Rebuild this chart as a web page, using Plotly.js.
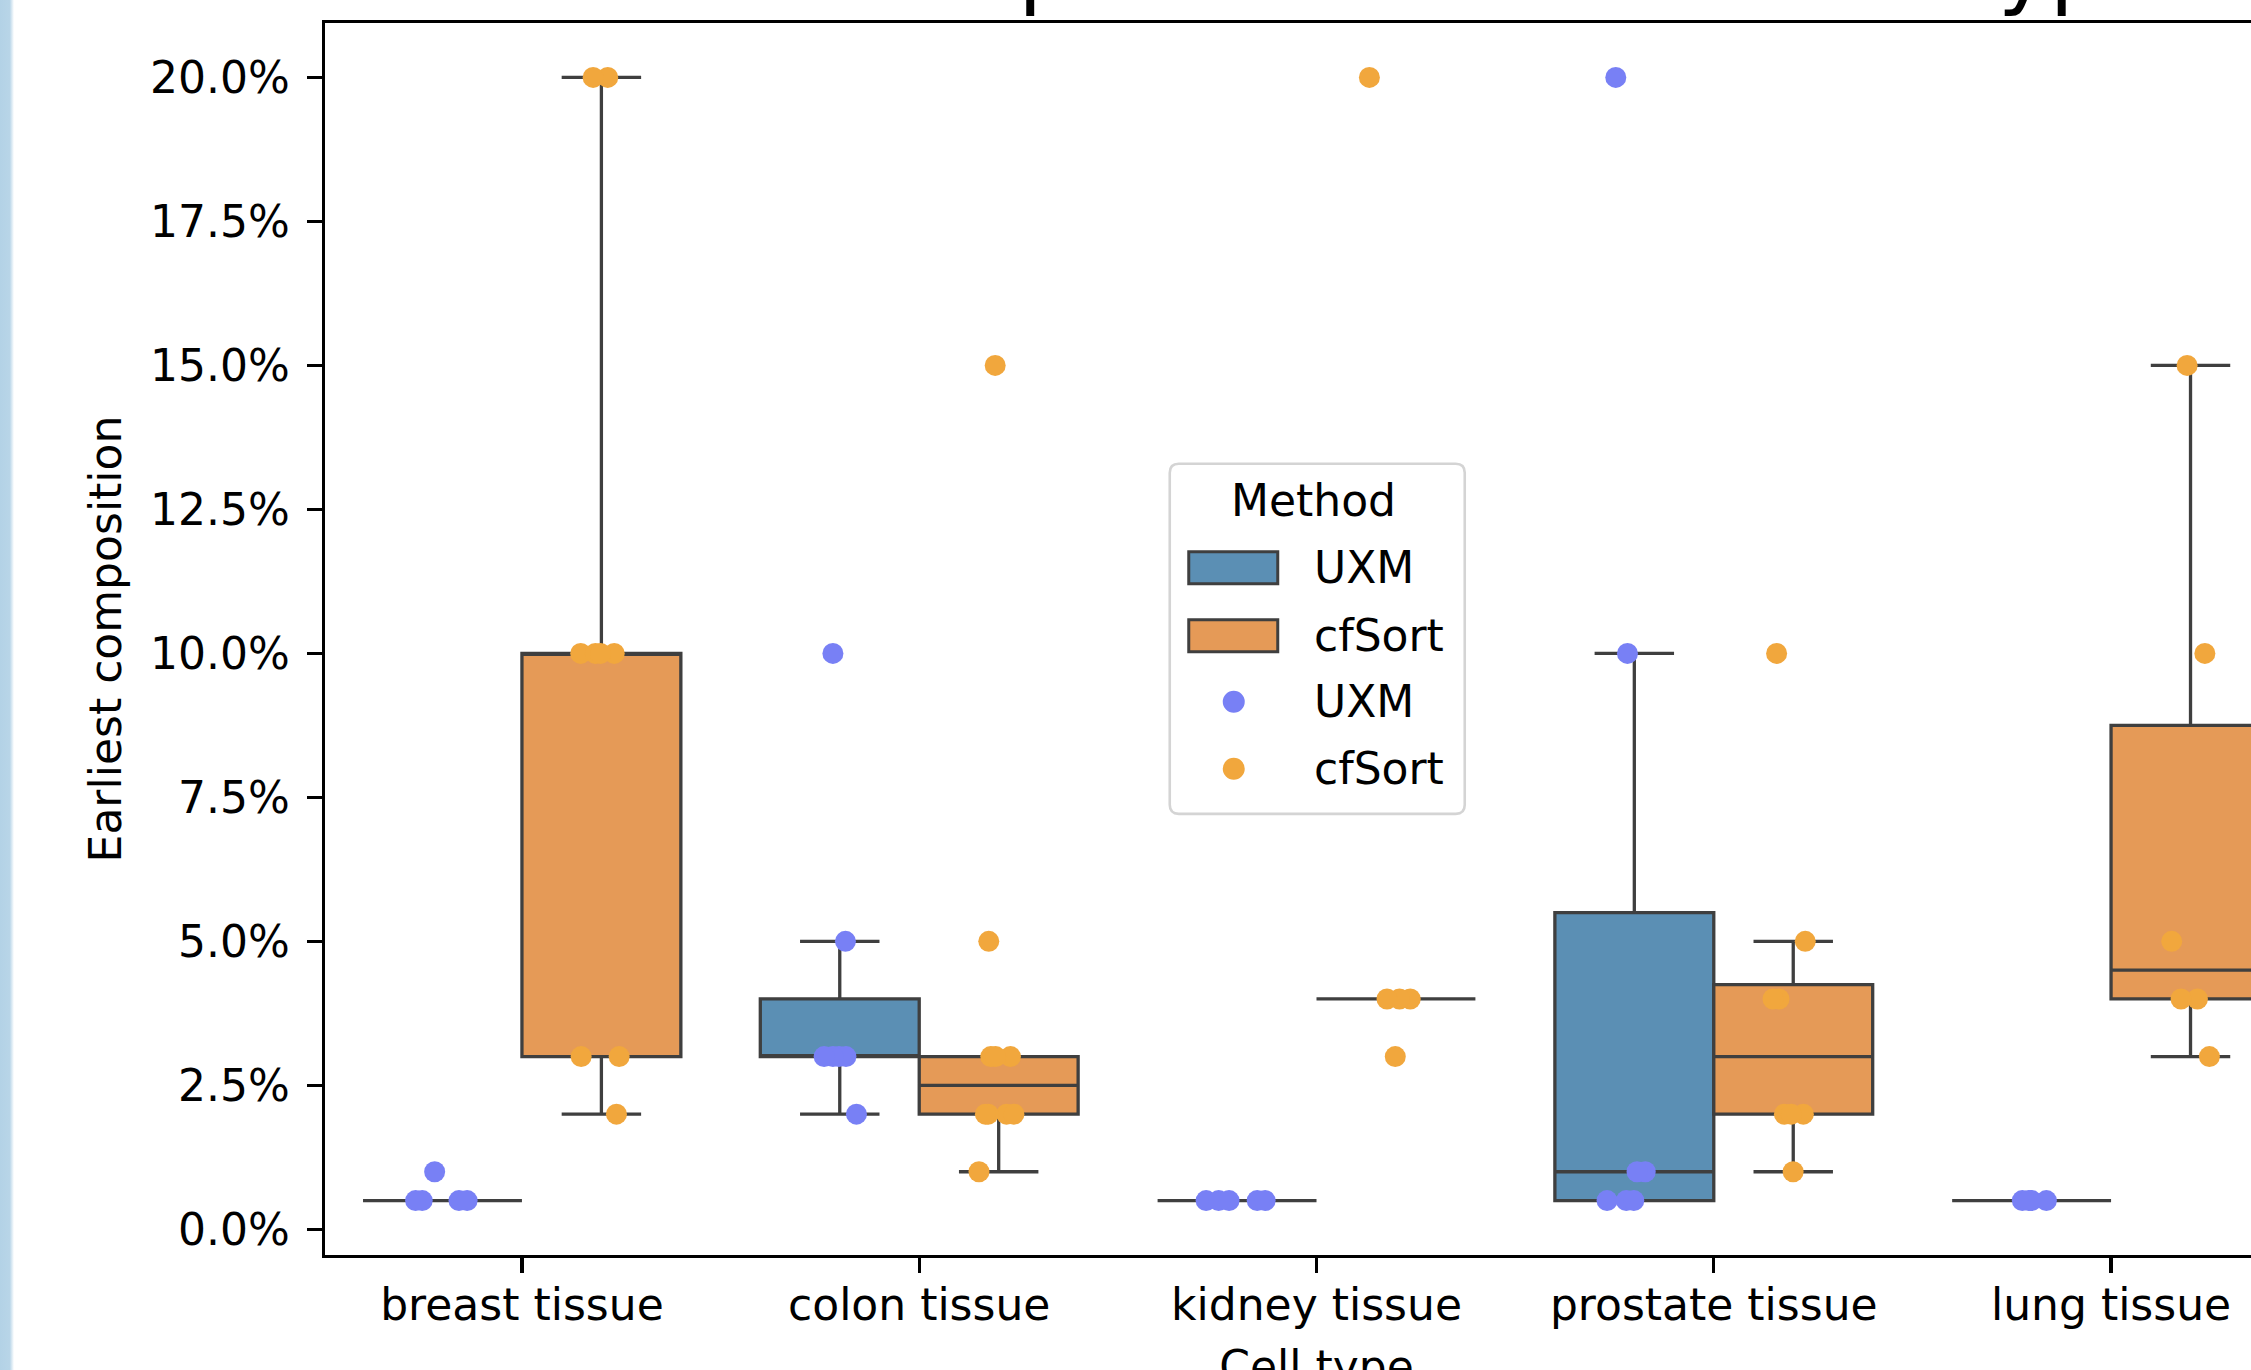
<!DOCTYPE html>
<html>
<head>
<meta charset="utf-8">
<script src="https://cdn.plot.ly/plotly-3.0.1.min.js"></script>
<style>
  html, body { margin: 0; padding: 0; width: 2251px; height: 1370px; overflow: hidden; background: #ffffff; }
  #chart { position: absolute; left: 0; top: -200px; }
  #edge { position: absolute; left: 0; top: 0; width: 14px; height: 1370px;
          background: linear-gradient(to right, #b3d2e6 0%, #b8d5e8 70%, #ffffff 100%); z-index: 5; }
</style>
</head>
<body>
<div id="chart"></div>
<div id="edge"></div>
<script>
// ---------------- data ----------------
const categories = ['breast tissue', 'colon tissue', 'kidney tissue', 'prostate tissue', 'lung tissue'];
const methods = ['UXM', 'cfSort'];

// earliest detected composition per sample, one list per cell type
const uxmPoints = [
  [0.005, 0.005, 0.005, 0.005, 0.01],
  [0.02, 0.03, 0.03, 0.03, 0.03, 0.05, 0.10],
  [0.005, 0.005, 0.005, 0.005, 0.005],
  [0.005, 0.005, 0.005, 0.01, 0.01, 0.10, 0.20],
  [0.005, 0.005, 0.005, 0.005]
];
const cfsortPoints = [
  [0.02, 0.03, 0.03, 0.10, 0.10, 0.10, 0.10, 0.20, 0.20],
  [0.01, 0.02, 0.02, 0.02, 0.02, 0.03, 0.03, 0.03, 0.05, 0.15],
  [0.03, 0.04, 0.04, 0.04, 0.20],
  [0.01, 0.02, 0.02, 0.02, 0.04, 0.04, 0.05, 0.10],
  [0.03, 0.04, 0.04, 0.05, 0.10, 0.15]
];

const titleText = 'Earliest composition for each cell type';
const xTitle = 'Cell type';
const yTitle = 'Earliest composition';
const legendTitle = 'Method';

// ---------------- styles ----------------
const FONT = 'DejaVu Sans, Verdana, sans-serif';
const boxFill = { UXM: '#5b8fb4', cfSort: '#e59a57' };
const dotColor = { UXM: '#7880f5', cfSort: '#f1a73d' };
const edge = '#3f3f3f';

// box statistics like seaborn / matplotlib (linear percentiles, 1.5 IQR whiskers)
function pct(s, p) {
  const pos = (s.length - 1) * p, lo = Math.floor(pos), hi = Math.ceil(pos);
  return s[lo] + (s[hi] - s[lo]) * (pos - lo);
}
function stats(groups) {
  const out = { q1: [], median: [], q3: [], lowerfence: [], upperfence: [] };
  groups.forEach(g => {
    const s = g.slice().sort((a, b) => a - b);
    const q1 = pct(s, 0.25), q3 = pct(s, 0.75), med = pct(s, 0.5), iqr = q3 - q1;
    const lo = Math.min(...s.filter(v => v >= q1 - 1.5 * iqr - 1e-12));
    const hi = Math.max(...s.filter(v => v <= q3 + 1.5 * iqr + 1e-12));
    out.q1.push(q1); out.median.push(med); out.q3.push(q3);
    out.lowerfence.push(lo); out.upperfence.push(hi);
  });
  return out;
}
function flat(groups) {
  const x = [], y = [];
  groups.forEach((g, i) => g.forEach(v => { x.push(categories[i]); y.push(v); }));
  return { x, y };
}

const groupsByMethod = { UXM: uxmPoints, cfSort: cfsortPoints };
const traces = [];

methods.forEach(m => {
  const st = stats(groupsByMethod[m]);
  traces.push(Object.assign({
    type: 'box', name: m, x: categories, offsetgroup: m,
    fillcolor: boxFill[m], line: { color: edge, width: 3.3 },
    whiskerwidth: 0.5, boxpoints: false, hoverinfo: 'skip', showlegend: false
  }, st));
});
methods.forEach(m => {
  const f = flat(groupsByMethod[m]);
  traces.push({
    type: 'box', name: m, x: f.x, y: f.y, offsetgroup: m,
    boxpoints: 'all', jitter: 0.4, pointpos: 0,
    fillcolor: 'rgba(0,0,0,0)', line: { color: 'rgba(0,0,0,0)', width: 0 },
    marker: { color: dotColor[m], size: 21, line: { width: 0 } },
    showlegend: false, hoveron: 'points'
  });
});

// ---------------- geometry ----------------
const W = 2400, H = 1650, T = 200;           // figure is shifted up by T (page is cropped like the reference)
const LW = 3.4;                               // spine width
const spTop = 21.7, spBottom = 1256.7, spLeft = 323.5, spRight = 2310;   // spine centres on the page
const plotTop = spTop + LW / 2, plotBottom = spBottom - LW / 2;
const plotLeft = spLeft + LW / 2, plotRight = spRight - LW / 2;
const yPerPx = 0.2145 / (spBottom - spTop), xPerPx = 5 / (spRight - spLeft);

// page pixel -> paper fraction (used only for the legend box)
const px = x => (x - plotLeft) / (plotRight - plotLeft);
const py = y => (plotBottom - y) / (plotBottom - plotTop);

// ---------------- legend drawn like matplotlib's ----------------
const shapes = [], annotations = [];
(function legend() {
  const L = 1170, R = 1465, Tp = 464, B = 814, r = 9;
  const path = 'M' + px(L + r) + ',' + py(Tp) +
    ' L' + px(R - r) + ',' + py(Tp) + ' Q' + px(R) + ',' + py(Tp) + ' ' + px(R) + ',' + py(Tp + r) +
    ' L' + px(R) + ',' + py(B - r) + ' Q' + px(R) + ',' + py(B) + ' ' + px(R - r) + ',' + py(B) +
    ' L' + px(L + r) + ',' + py(B) + ' Q' + px(L) + ',' + py(B) + ' ' + px(L) + ',' + py(B - r) +
    ' L' + px(L) + ',' + py(Tp + r) + ' Q' + px(L) + ',' + py(Tp) + ' ' + px(L + r) + ',' + py(Tp) + ' Z';
  shapes.push({ type: 'path', xref: 'paper', yref: 'paper', path: path,
    fillcolor: 'rgba(255,255,255,0.85)', line: { color: '#d4d4d4', width: 2.6 }, layer: 'above' });
  annotations.push({ xref: 'paper', yref: 'paper', x: px(1314), y: py(501), xanchor: 'center', yanchor: 'middle',
    text: legendTitle, showarrow: false, font: { family: FONT, size: 44, color: '#000000' } });
  const rows = [568, 636, 702, 769];
  methods.forEach((m, i) => {
    const yc = rows[i];
    shapes.push({ type: 'rect', xref: 'paper', yref: 'paper', layer: 'above',
      x0: px(1189), x1: px(1278), y0: py(yc - 16), y1: py(yc + 16),
      fillcolor: boxFill[m], line: { color: edge, width: 3 } });
    annotations.push({ xref: 'paper', yref: 'paper', x: px(1312), y: py(yc), xanchor: 'left', yanchor: 'middle',
      text: m, showarrow: false, font: { family: FONT, size: 44, color: '#000000' } });
  });
  methods.forEach((m, i) => {
    const yc = rows[i + 2], rr = 11;
    shapes.push({ type: 'circle', xref: 'paper', yref: 'paper', layer: 'above',
      x0: px(1234 - rr), x1: px(1234 + rr), y0: py(yc - rr), y1: py(yc + rr),
      fillcolor: dotColor[m], line: { width: 0 } });
    annotations.push({ xref: 'paper', yref: 'paper', x: px(1312), y: py(yc), xanchor: 'left', yanchor: 'middle',
      text: m, showarrow: false, font: { family: FONT, size: 44, color: '#000000' } });
  });
})();

const axisCommon = {
  showline: true, mirror: true, linecolor: '#000000', linewidth: LW,
  ticks: 'outside', ticklen: 15, tickwidth: LW, tickcolor: '#000000',
  showgrid: false, zeroline: false,
  tickfont: { family: FONT, size: 44, color: '#000000' }
};

const layout = {
  width: W, height: H, autosize: false,
  margin: { l: plotLeft, r: W - plotRight, t: T + plotTop, b: H - T - plotBottom, pad: 0 },
  paper_bgcolor: '#ffffff', plot_bgcolor: '#ffffff',
  font: { family: FONT, size: 44, color: '#000000' },
  title: {
    text: titleText, font: { family: FONT, size: 88, color: '#000000' },
    xref: 'paper', x: 0.5, xanchor: 'center',
    yref: 'paper', y: 1, yanchor: 'bottom', pad: { b: 25 }
  },
  showlegend: false,
  boxmode: 'group', boxgap: 0.2, boxgroupgap: 0,
  xaxis: Object.assign({}, axisCommon, {
    type: 'category', categoryorder: 'array', categoryarray: categories,
    range: [-0.5 + (LW / 2) * xPerPx, 4.5 - (LW / 2) * xPerPx], ticklabelstandoff: -6,
    title: { text: xTitle, font: { family: FONT, size: 44, color: '#000000' }, standoff: 23 }
  }),
  yaxis: Object.assign({}, axisCommon, {
    range: [-0.00475 + (LW / 2) * yPerPx, 0.20975 - (LW / 2) * yPerPx],
    tick0: 0, dtick: 0.025, tickformat: '.1%',
    ticklabelstandoff: 8,
    title: { text: yTitle, font: { family: FONT, size: 44, color: '#000000' }, standoff: 15 }
  }),
  shapes: shapes,
  annotations: annotations
};

Plotly.newPlot('chart', traces, layout, { staticPlot: true, displayModeBar: false });
</script>
</body>
</html>
